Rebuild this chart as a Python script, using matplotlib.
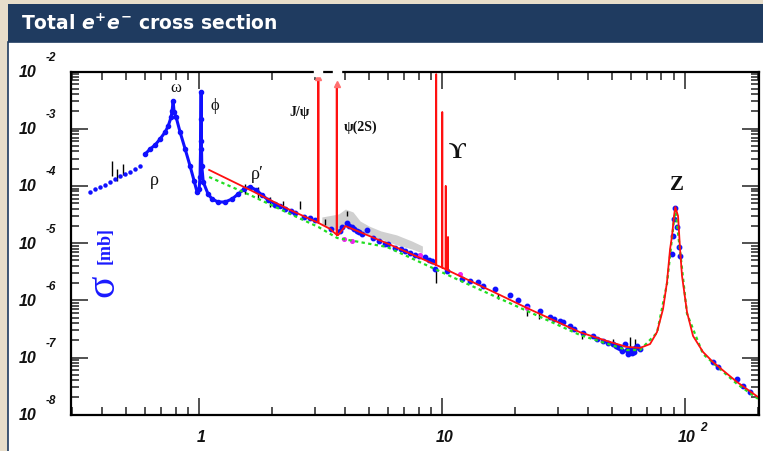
import numpy as np
import matplotlib
matplotlib.use('Agg')
import matplotlib.pyplot as plt
from matplotlib.patches import Rectangle
from matplotlib.ticker import LogLocator, NullFormatter

plt.rcParams['mathtext.fontset'] = 'custom'
plt.rcParams['mathtext.it'] = 'DejaVu Sans:bold:italic'
plt.rcParams['mathtext.rm'] = 'DejaVu Sans:bold'

# ---- data (E in GeV, sigma in mb) ----
# sparse low-energy points (rho tail)
rho_E = [0.356, 0.373, 0.392, 0.410, 0.430, 0.451, 0.473, 0.496, 0.520, 0.545, 0.572]
rho_sig = [7.8e-5, 8.8e-5, 9.6e-5, 1.04e-4, 1.17e-4, 1.32e-4, 1.49e-4, 1.61e-4, 1.75e-4, 1.97e-4, 2.23e-4]

# dense low-energy curve: rho/omega, phi, rho'
low_E = [0.600, 0.629, 0.659, 0.691, 0.725, 0.746, 0.767, 0.774, 0.782, 0.789, 0.804,
         0.835, 0.876, 0.918, 0.954, 0.981, 1.0, 1.009, 1.014, 1.017, 1.0195, 1.022,
         1.026, 1.04, 1.089, 1.131, 1.197, 1.279, 1.367, 1.447, 1.532, 1.621, 1.717,
         1.817, 1.923, 2.055, 2.154]
low_sig = [3.61e-4, 4.42e-4, 5.19e-4, 6.61e-4, 8.75e-4, 1.11e-3, 1.60e-3, 2.04e-3, 3.05e-3,
           1.96e-3, 1.60e-3, 8.75e-4, 4.42e-4, 2.23e-4, 1.22e-4, 7.8e-5, 8.8e-5, 1.43e-4,
           4.4e-4, 1.5e-3, 4.38e-3, 6.0e-4, 2.2e-4, 1.17e-4, 7.2e-5, 5.9e-5, 5.23e-5, 5.23e-5,
           5.9e-5, 7.2e-5, 8.8e-5, 9.6e-5, 8.5e-5, 6.9e-5, 5.7e-5, 4.83e-5, 4.45e-5]

# continuum and Z data points
cont_E = [2.26, 2.48, 2.86, 3.88, 4.06, 4.26, 4.47, 4.69, 4.91, 5.83, 6.41, 7.04, 7.74,
          8.51, 9.10, 9.36, 12.1, 14.1, 16.5, 19.0, 22.4, 25.3, 27.8, 30.6, 33.6, 38.0,
          41.8, 46.0, 50.5, 53.0, 55.0, 56.6, 58.3, 59.9, 61.7, 63.5, 65.3,
          88.4, 89.2, 90.1, 91.2, 92.7, 94.4, 95.4,
          130.4, 136.7, 163.7, 173.2, 185.1,
          2.05, 2.4, 2.7, 3.0, 3.5, 3.8, 4.15, 4.35, 4.55, 5.2, 5.5, 6.0, 6.8, 7.4, 8.0,
          8.8, 10.5, 13.0, 14.8, 20.5, 29.0, 31.5, 35.0, 43.5, 48.0, 52.0, 54.0, 57.5,
          60.5, 62.5]
cont_sig = [3.94e-5, 3.36e-5, 2.75e-5, 1.91e-5, 2.25e-5, 1.91e-5, 1.63e-5, 1.44e-5, 1.69e-5,
            9.65e-6, 8.2e-6, 7.3e-6, 6.2e-6, 5.7e-6, 4.86e-6, 3.52e-6, 2.36e-6, 2.09e-6,
            1.58e-6, 1.24e-6, 7.9e-7, 6.5e-7, 5.1e-7, 4.35e-7, 3.56e-7, 2.68e-7, 2.38e-7,
            1.94e-7, 1.72e-7, 1.53e-7, 1.30e-7, 1.72e-7, 1.15e-7, 1.41e-7, 1.25e-7, 1.59e-7,
            1.41e-7, 6.45e-6, 1.33e-5, 2.64e-5, 4.1e-5, 1.91e-5, 8.55e-6, 5.95e-6,
            8.3e-8, 6.8e-8, 4.2e-8, 3.17e-8, 2.49e-8,
            4.6e-5, 3.6e-5, 2.9e-5, 2.5e-5, 1.75e-5, 1.6e-5, 2.0e-5, 1.75e-5, 1.55e-5,
            1.25e-5, 1.1e-5, 9.5e-6, 7.8e-6, 6.6e-6, 6.0e-6, 5.1e-6, 3.2e-6, 2.2e-6,
            1.8e-6, 1.0e-6, 4.8e-7, 4.1e-7, 3.2e-7, 2.1e-7, 1.8e-7, 1.6e-7, 1.45e-7,
            1.35e-7, 1.2e-7, 1.45e-7]

# magenta points
mag_E = [3.95, 4.26, 8.1, 11.9, 22.4]
mag_sig = [1.2e-5, 1.09e-5, 6.2e-6, 2.88e-6, 7.4e-7]

# black error bars: energy, lower, upper
bar_E = [0.438, 0.46, 0.487, 1.55, 1.75, 1.95, 2.22, 2.6, 3.3, 4.06, 9.4, 17.0, 22.4,
         25.1, 37.6, 50.5, 59.2, 62.0]
bar_lo = [1.49e-4, 1.22e-4, 1.55e-4, 7.2e-5, 5.9e-5, 4.28e-5, 3.94e-5, 3.94e-5, 2.07e-5,
          2.98e-5, 2.0e-6, 1.05e-6, 5.3e-7, 4.7e-7, 2.1e-7, 1.59e-7, 1.41e-7, 1.2e-7]
bar_hi = [2.72e-4, 1.97e-4, 2.41e-4, 1.08e-4, 9.6e-5, 6.4e-5, 5.44e-5, 5.44e-5, 2.64e-5,
          3.64e-5, 3.4e-6, 1.29e-6, 7.6e-7, 6.8e-7, 2.9e-7, 2.1e-7, 2.28e-7, 2.1e-7]

# grey band 3-8 GeV
gray_E = [3.2, 3.75, 4.0, 4.3, 4.6, 5.0, 5.6, 6.5, 7.5, 8.3]
gray_lo = [2.07e-5, 1.63e-5, 1.91e-5, 1.91e-5, 1.63e-5, 1.39e-5, 1.18e-5, 9.3e-6, 7.9e-6, 6.7e-6]
gray_hi = [2.86e-5, 3.23e-5, 3.94e-5, 3.50e-5, 2.43e-5, 1.99e-5, 1.63e-5, 1.39e-5, 1.09e-5, 8.9e-6]

# red curve incl. J/psi, psi(2S), Upsilon spikes and the Z
red_E = [1.1, 1.62, 2.37, 3.09, 3.097, 3.104, 3.46, 3.68, 3.686, 3.692, 3.73, 4.0,
         5.94, 8.12, 9.455, 9.46, 9.465, 10.015, 10.02, 10.025, 10.35, 10.355, 10.36,
         10.575, 10.58, 10.585, 12.2, 17.3, 22.4, 37.0, 49.1, 57.7, 65.3, 71.8, 76.7,
         81.2, 84.3, 86.8, 88.4, 90.1, 91.2, 93.6, 95.4, 97.2, 101.9, 107.9, 118.6,
         130.4, 163.7, 199.7]
red_sig = [1.90e-4, 8.5e-5, 3.79e-5, 2.27e-5, 8.0e-3, 2.25e-5, 1.77e-5, 1.40e-5, 6.0e-3,
           1.39e-5, 1.37e-5, 1.99e-5, 9.9e-6, 5.5e-6, 4.15e-6, 9.0e-3, 4.13e-6, 3.73e-6,
           1.96e-3, 3.71e-6, 3.49e-6, 1.0e-4, 3.47e-6, 3.35e-6, 1.28e-5, 3.33e-6, 2.5e-6,
           1.24e-6, 7.3e-7, 2.76e-7, 1.87e-7, 1.53e-7, 1.47e-7, 1.72e-7, 2.79e-7, 7.05e-7,
           2.09e-6, 7.9e-6, 1.33e-5, 2.98e-5, 4.28e-5, 2.98e-5, 7.9e-6, 2.66e-6, 6.24e-7,
           2.38e-7, 1.25e-7, 8.3e-8, 3.73e-8, 2.04e-8]

# green dashed curve
green_E = [1.1, 1.62, 2.37, 3.1, 3.7, 5.94, 12.2, 22.4, 37.0, 57.7, 65.3, 76.7, 84.3,
           88.4, 91.2, 95.4, 101.9, 118.6, 163.7, 199.7]
green_sig = [1.43e-4, 6.93e-5, 3.23e-5, 1.91e-5, 1.23e-5, 8.55e-6, 2.09e-6, 6.5e-7, 2.47e-7,
             1.35e-7, 1.35e-7, 2.7e-7, 1.95e-6, 1.23e-5, 3.94e-5, 7.3e-6, 5.8e-7, 1.15e-7,
             3.45e-8, 1.9e-8]

# arrows on the charmonium spikes
arrow_E = [3.097, 3.686]
arrow_sig = [8.0e-3, 6.0e-3]

y_exps = [-8, -7, -6, -5, -4, -3, -2]
x_ticks = [1, 10, 100]

# resonance labels: text, E, sigma, size, weight
res_labels = [('ω', 0.804, 5.4e-3, 12, 'normal'), ('ϕ', 1.164, 2.6e-3, 12, 'normal'),
              ('ρ', 0.653, 1.27e-4, 13, 'normal'), ('ρ′', 1.733, 1.68e-4, 13, 'normal'),
              ('J/ψ', 2.60, 1.96e-3, 10, 'bold'), ('ψ(2S)', 4.64, 1.11e-3, 10, 'bold'),
              ('ϒ', 11.5, 4.07e-4, 17, 'bold'), ('Z', 92.7, 1.08e-4, 15, 'bold')]

# ---- figure ----
W, H = 763, 452
fig = plt.figure(figsize=(W / 100, H / 100), dpi=100)
fig.patch.set_facecolor('#e7ddca')
navy = '#1f3b60'
fig.patches.append(Rectangle((8 / W, 1 - 43 / H), 1, 38 / H, transform=fig.transFigure,
                             fc=navy, ec='none', zorder=-2))
fig.patches.append(Rectangle((8 / W, -0.01), 1, 1 - 43 / H + 0.01, transform=fig.transFigure,
                             fc='white', ec=navy, lw=1.2, zorder=-2))
fig.text(21 / W, 1 - 24 / H, r'Total $e^{+}e^{-}$ cross section', color='white',
         fontsize=13.5, fontweight='bold', va='center', ha='left')

ax = fig.add_axes([71 / W, 1 - 415.7 / H, (759 - 71) / W, (415.7 - 72.5) / H])
ax.set_xscale('log')
ax.set_yscale('log')
ax.set_xlim(0.297, 201.6)
ax.set_ylim(1e-8, 1e-2)
ax.set_facecolor('white')

for s in ax.spines.values():
    s.set_linewidth(1.6)
    s.set_zorder(10)
ax.xaxis.set_minor_locator(LogLocator(base=10, subs=np.arange(2, 10), numticks=50))
ax.yaxis.set_minor_locator(LogLocator(base=10, subs=np.arange(2, 10), numticks=50))
ax.xaxis.set_minor_formatter(NullFormatter())
ax.yaxis.set_minor_formatter(NullFormatter())
ax.tick_params(which='both', direction='in', top=True, right=True,
               labelbottom=False, labelleft=False, width=1.1, color='#222222')
ax.tick_params(which='major', length=12)
ax.tick_params(which='minor', length=6)

# grey band
ax.fill_between(gray_E, gray_lo, gray_hi, color='#d0d0d0', lw=0, zorder=1)

# black error bars
ax.vlines(bar_E, bar_lo, bar_hi, color='black', lw=1.0, zorder=2)

# blue data
ax.plot(rho_E, rho_sig, ls='none', marker='o', ms=2.2, color='#1010ff', zorder=3)
ax.plot(low_E, low_sig, ls='-', lw=2.2, marker='o', ms=3, color='#1010ff', zorder=3)
ax.plot(cont_E, cont_sig, ls='none', marker='o', ms=3.2, color='#1010ff', zorder=3)
ax.plot(mag_E, mag_sig, ls='none', marker='o', ms=2.6, color='#ee22ee', zorder=3)

# theory curves
ax.plot(green_E, green_sig, color='#22dd22', lw=1.6, ls=(0, (1.5, 1.5)), zorder=4)
ax.plot(red_E, red_sig, color='#ff1010', lw=1.3, zorder=5)
ax.plot(arrow_E, arrow_sig, ls='none', marker='^', ms=5, color='#ff7070', zorder=6)
# gaps in the top frame where the arrows reach it
ax.plot(arrow_E, [1e-2, 1e-2], ls='none', marker='s', ms=6, color='white', mec='white',
        zorder=11, clip_on=False)

# resonance labels
for txt, e, sg, fs, wt in res_labels:
    ax.text(e, sg, txt, ha='center', va='center', fontsize=fs, fontweight=wt,
            family=['Liberation Serif', 'DejaVu Serif'], color='#111111')

# y-axis title inside the frame
ax.text(0.403, 1.85e-6, 'σ', rotation=90, ha='center', va='center', fontsize=30,
        color='#1a1aff', family=['Liberation Serif', 'DejaVu Serif'])
ax.text(0.41, 9.6e-6, '[mb]', rotation=90, ha='center', va='center', fontsize=13,
        fontweight='bold', color='#1a1aff', family=['Liberation Serif', 'DejaVu Serif'])

# ROOT-like tick labels
lab = dict(style='italic', fontweight='bold', family=['Liberation Sans', 'DejaVu Sans'],
           color='#111111')
for k in y_exps:
    ax.annotate('10', xy=(0, 10.0 ** k), xycoords=('axes fraction', 'data'),
                xytext=(-31.5, 0), textcoords='offset points', ha='center', va='center',
                fontsize=11.5, **lab)
    ax.annotate(str(k), xy=(0, 10.0 ** k), xycoords=('axes fraction', 'data'),
                xytext=(-14.5, 10.5), textcoords='offset points', ha='center', va='center',
                fontsize=8.5, **lab)
for v in x_ticks:
    if v < 100:
        ax.annotate(str(v), xy=(v, 0), xycoords=('data', 'axes fraction'),
                    xytext=(1.5, -15.5), textcoords='offset points', ha='center',
                    va='center', fontsize=11.5, **lab)
    else:
        ax.annotate('10', xy=(v, 0), xycoords=('data', 'axes fraction'),
                    xytext=(1.5, -16), textcoords='offset points', ha='center',
                    va='center', fontsize=11.5, **lab)
        ax.annotate('2', xy=(v, 0), xycoords=('data', 'axes fraction'),
                    xytext=(13, -9), textcoords='offset points', ha='center',
                    va='center', fontsize=8.5, **lab)

fig.savefig('out.png', dpi=100, facecolor=fig.get_facecolor())
